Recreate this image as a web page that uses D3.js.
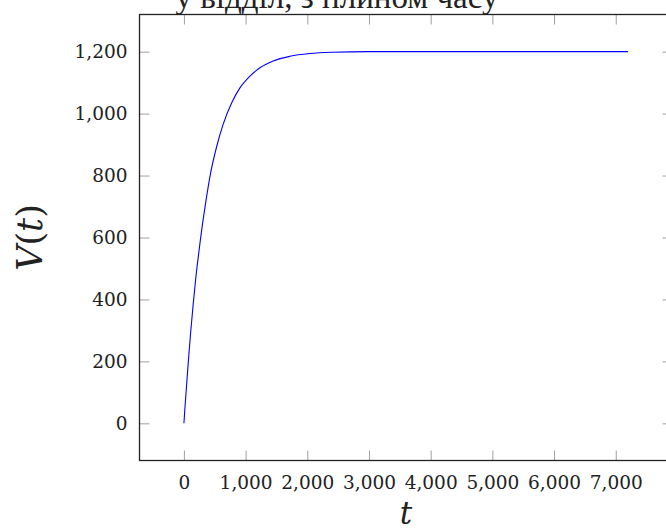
<!DOCTYPE html>
<html>
<head>
<meta charset="utf-8">
<script src="https://cdn.jsdelivr.net/npm/d3@7/dist/d3.min.js"></script>
<style>
  html, body { margin: 0; padding: 0; background: #fff; }
  svg { display: block; }
  text { font-family: "Liberation Serif", "DejaVu Serif", serif; fill: #222; }
</style>
</head>
<body>
<div id="chart"></div>
<script>
// Volume V(t) entering the department over time
const tValues = [0, 16, 70, 108, 151, 194, 248, 313, 357, 421, 530, 637, 773, 908, 1070, 1232, 1448, 1718, 2042, 2400, 3000, 4000, 5000, 6000, 7200];
const vValues = [0, 48, 196, 291, 386, 472, 562, 660, 718, 796, 893, 966, 1034, 1083, 1121, 1148, 1170, 1185, 1194, 1198, 1200, 1200, 1200, 1200, 1200];
const xTicks = [0, 1000, 2000, 3000, 4000, 5000, 6000, 7000];
const yTicks = [0, 200, 400, 600, 800, 1000, 1200];
const titleText = "у відділ, з плином часу";

const W = 666, H = 531;
const plot = { left: 139.5, right: 672.5, top: 14.5, bottom: 460.5 };

const svg = d3.select("#chart").append("svg")
  .attr("width", W).attr("height", H);

const x = d3.scaleLinear().domain([-720, 7920]).range([plot.left, plot.right]);
const y = d3.scaleLinear().domain([-120, 1320]).range([plot.bottom, plot.top]);

const fmt = d3.format(",");
const tickLen = 10;
const tickFont = "'DejaVu Serif', serif";

// inward ticks on all four sides
const axes = [
  d3.axisBottom(x).tickValues(xTicks).tickSizeInner(-tickLen).tickSizeOuter(0).tickFormat(fmt).tickPadding(15),
  d3.axisTop(x).tickValues(xTicks).tickSizeInner(-tickLen).tickSizeOuter(0).tickFormat(""),
  d3.axisLeft(y).tickValues(yTicks).tickSizeInner(-tickLen).tickSizeOuter(0).tickFormat(fmt).tickPadding(12),
  d3.axisRight(y).tickValues(yTicks).tickSizeInner(-tickLen).tickSizeOuter(0).tickFormat("")
];
const pos = [
  `translate(0,${plot.bottom})`, `translate(0,${plot.top})`,
  `translate(${plot.left},0)`, `translate(${plot.right},0)`
];
axes.forEach((ax, i) => {
  const g = svg.append("g").attr("transform", pos[i]).call(ax);
  g.select(".domain").remove();
  g.selectAll(".tick line").attr("stroke", "#888").attr("stroke-width", 0.8);
  g.selectAll(".tick text")
    .style("font-family", tickFont)
    .style("font-size", "18.5px").attr("fill", "#333");
});

// frame
svg.append("rect")
  .attr("x", plot.left).attr("y", plot.top)
  .attr("width", plot.right - plot.left).attr("height", plot.bottom - plot.top)
  .attr("fill", "none").attr("stroke", "#222").attr("stroke-width", 1.3);

// curve
const data = tValues.map((t, i) => ({ t, v: vValues[i] }));
svg.append("path")
  .datum(data)
  .attr("fill", "none")
  .attr("stroke", "#0000ff")
  .attr("stroke-width", 1.1)
  .attr("d", d3.line().x(d => x(d.t)).y(d => y(d.v)).curve(d3.curveMonotoneX));

// title (its first line sits above the top edge)
svg.append("text")
  .attr("x", 337).attr("y", 8)
  .attr("text-anchor", "middle")
  .style("font-size", "33px").attr("fill", "#000")
  .text(titleText);

// axis labels
svg.append("text")
  .attr("x", (plot.left + plot.right) / 2).attr("y", 524)
  .attr("text-anchor", "middle")
  .style("font-family", "'DejaVu Serif', serif")
  .style("font-size", "31px").style("font-style", "italic")
  .text("t");

const yl = svg.append("text")
  .attr("transform", `translate(42,${(plot.top + plot.bottom) / 2}) rotate(-90)`)
  .attr("text-anchor", "middle")
  .style("font-family", "'DejaVu Serif', serif")
  .style("font-size", "35px");
yl.append("tspan").style("font-style", "italic").text("V");
yl.append("tspan").text("(");
yl.append("tspan").style("font-style", "italic").text("t");
yl.append("tspan").text(")");
</script>
</body>
</html>
